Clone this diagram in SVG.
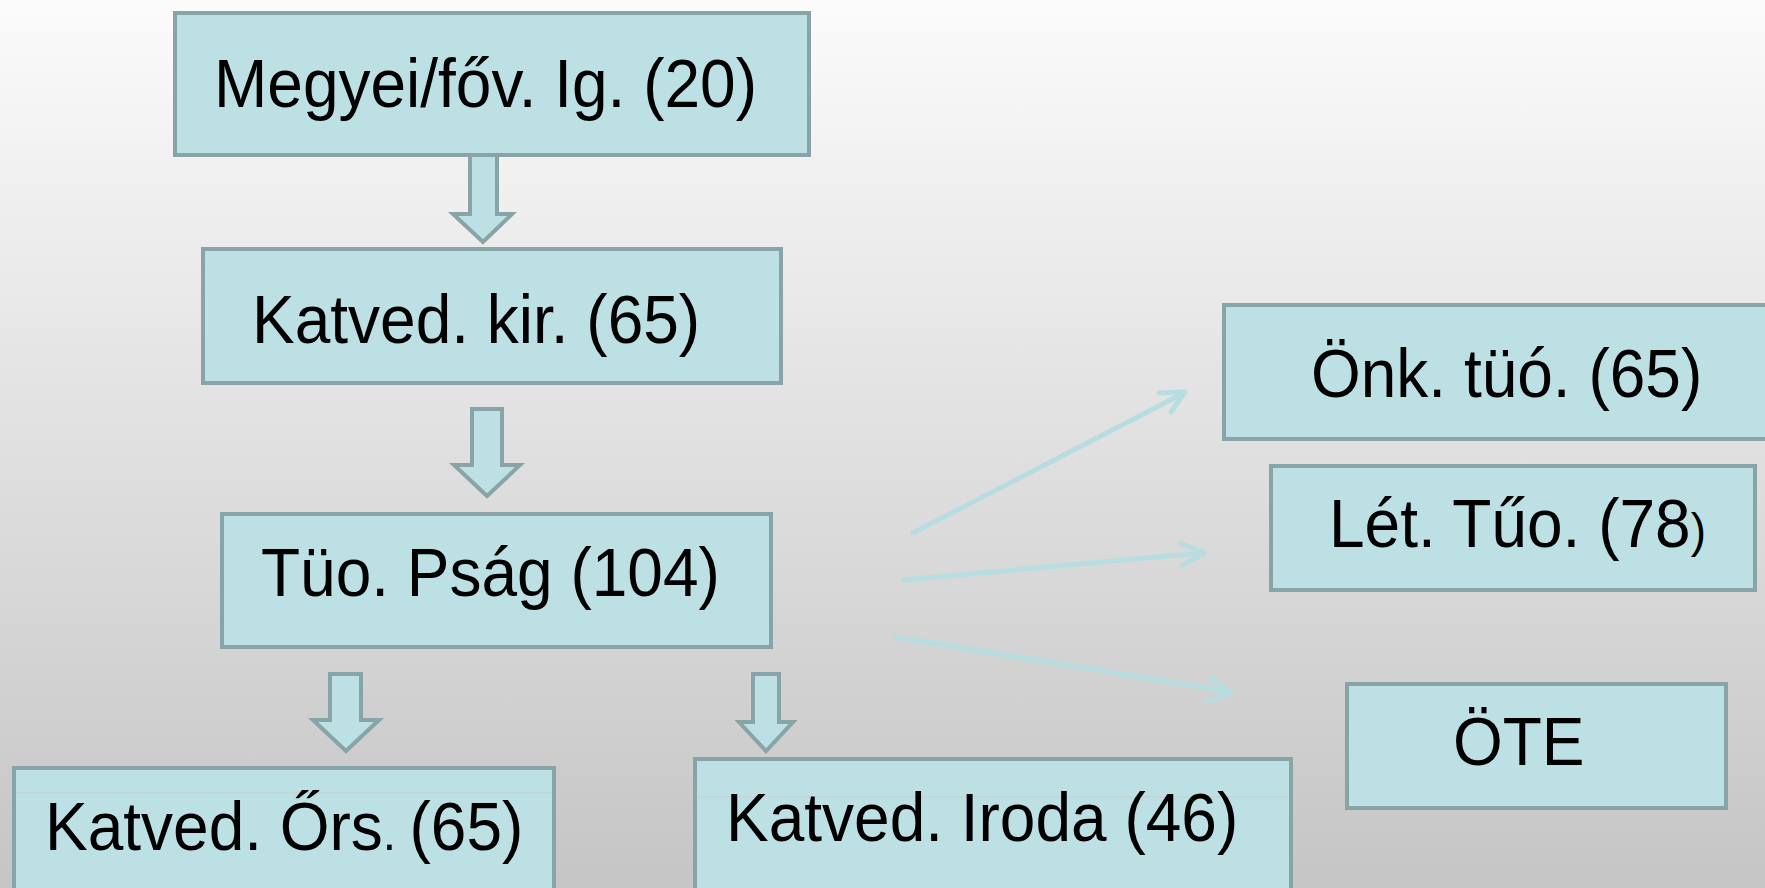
<svg xmlns="http://www.w3.org/2000/svg" width="1765" height="888" viewBox="0 0 1765 888">
<defs>
<linearGradient id="bg" x1="0" y1="0" x2="0" y2="1">
<stop offset="0" stop-color="#fbfbfb"/>
<stop offset="1" stop-color="#c5c5c5"/>
</linearGradient>
<style>
.box{fill:#bce0e3;stroke:#88a4a6;stroke-width:4}
.lbl{font-family:"Liberation Sans",Arial,sans-serif;font-size:64px;fill:#000}
.blk{fill:#bce0e3;stroke:#88a4a6;stroke-width:4;stroke-linejoin:miter}
.thin{fill:none;stroke:#b8dde0;stroke-width:5;stroke-linecap:round;stroke-linejoin:round}
.faint{stroke:#c9d3d4;stroke-width:1.5}
</style>
</defs>
<rect x="0" y="0" width="1765" height="888" fill="url(#bg)"/>
<g id="n1"><rect class="box" x="175" y="13" width="634" height="142"/><text class="lbl" transform="translate(214,107) scale(1,1.06)">Megyei/főv. Ig. (20)</text></g>
<g id="n2"><rect class="box" x="203" y="249" width="578" height="134"/><text class="lbl" transform="translate(252,343) scale(1,1.06)">Katved. kir. (65)</text></g>
<g id="n3"><rect class="box" x="222" y="514" width="549" height="133"/><text class="lbl" transform="translate(261,596) scale(1,1.06)">Tüo. Pság (104)</text></g>
<g id="n4"><rect class="box" x="14" y="768" width="540" height="130"/><line class="faint" x1="16" y1="793" x2="552" y2="793"/><text class="lbl" transform="translate(45,850) scale(1,1.06)">Katved. Őrs<tspan font-size="48">. </tspan>(65)</text></g>
<g id="n5"><rect class="box" x="695" y="759" width="596" height="140"/><line class="faint" x1="697" y1="797" x2="1289" y2="797"/><text class="lbl" transform="translate(726,841) scale(1,1.06)">Katved. Iroda (46)</text></g>
<g id="n6"><rect class="box" x="1224" y="305" width="560" height="134"/><text class="lbl" transform="translate(1311,397) scale(1,1.06)">Önk. tüó. (65)</text></g>
<g id="n7"><rect class="box" x="1271" y="466" width="484" height="124"/><text class="lbl" transform="translate(1329,547) scale(1,1.06)">Lét. Tűo. (78<tspan font-size="46">)</tspan></text></g>
<g id="n8"><rect class="box" x="1347" y="684" width="379" height="124"/><text class="lbl" transform="translate(1453,765) scale(1,1.06)">ÖTE</text></g>
<g id="connectors">
<polygon class="blk" points="470,155 497,155 497,214 512,214 483,242 453,214 470,214"/>
<polygon class="blk" points="472,409 502,409 502,465 520,465 487,496 454,465 472,465"/>
<polygon class="blk" points="330,674 361,674 361,720 379,720 346,751 313,720 330,720"/>
<polygon class="blk" points="753,674 779,674 779,722 793,722 766,751 739,722 753,722"/>
<line class="thin" x1="913" y1="533" x2="1184" y2="393"/>
<polyline class="thin" points="1159,393 1185,392 1171,412"/>
<line class="thin" x1="904" y1="580" x2="1202" y2="553"/>
<polyline class="thin" points="1180,543 1204,553 1182,566"/>
<line class="thin" x1="895" y1="637" x2="1231" y2="692"/>
<polyline class="thin" points="1212,679 1232,693 1207,702"/>
</g>
</svg>
